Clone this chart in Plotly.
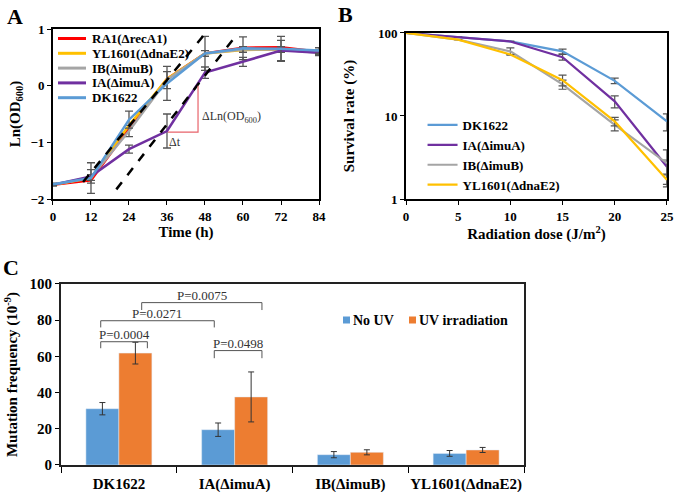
import plotly.graph_objects as go

# ---------- Panel A data ----------
time_h = [0, 12, 24, 36, 48, 60, 72, 84]
a_names = ["RA1(ΔrecA1)", "YL1601(ΔdnaE2)", "IB(ΔimuB)", "IA(ΔimuA)", "DK1622"]
a_colors = ["#FF0000", "#FFC000", "#A5A5A5", "#7030A0", "#5B9BD5"]
a_ra1 = [-1.75, -1.67, -0.75, 0.12, 0.57, 0.67, 0.68, 0.60]
a_yl = [-1.75, -1.63, -0.70, 0.12, 0.57, 0.63, 0.64, 0.60]
a_ib = [-1.75, -1.62, -0.80, 0.10, 0.57, 0.64, 0.64, 0.58]
a_ia = [-1.75, -1.60, -1.12, -0.80, 0.23, 0.42, 0.62, 0.58]
a_dk = [-1.74, -1.63, -0.60, 0.04, 0.57, 0.66, 0.65, 0.62]
a_err_ib = [0.0, 0.05, 0.10, 0.15, 0.05, 0.05, 0.05, 0.03]
a_err_ia = [0.02, 0.12, 0.07, 0.30, 0.10, 0.08, 0.18, 0.05]
a_err_dk = [0.02, 0.27, 0.15, 0.30, 0.30, 0.20, 0.22, 0.05]
dash1_x = [9.5, 48.5]
dash1_y = [-1.70, 0.95]
dash2_x = [20.0, 56.9]
dash2_y = [-1.83, 0.82]
tri_x = [36.3, 45.8, 45.8]
tri_y = [-0.82, -0.82, 0.0]

# ---------- Panel B data ----------
dose = [0, 5, 10, 15, 20, 25]
b_names = ["DK1622", "IA(ΔimuA)", "IB(ΔimuB)", "YL1601(ΔdnaE2)"]
b_colors = ["#5B9BD5", "#7030A0", "#A5A5A5", "#FFC000"]
b_dk = [100, 89, 79, 60, 26.5, 8.6]
b_ia = [100, 89, 79, 51, 15, 2.45]
b_ib = [100, 83, 60, 24, 7.8, 2.7]
b_yl = [100, 83, 55, 27, 8.6, 1.7]
b_err_dk = [0, 0, 0, 4, 2, 2]
b_err_ia = [0, 0, 0, 4, 2.5, 0.5]
b_err_ib = [0, 0, 6, 3, 1.2, 1.2]
b_err_yl = [0, 0, 0, 4, 1, 0.3]

# ---------- Panel C data ----------
strains = ["DK1622", "IA(ΔimuA)", "IB(ΔimuB)", "YL1601(ΔdnaE2)"]
c_series = ["No UV", "UV irradiation"]
c_colors = ["#5B9BD5", "#ED7D31"]
c_nouv = [31.1, 19.5, 5.7, 6.4]
c_nouv_err = [3.4, 3.7, 1.7, 1.6]
c_uv = [61.8, 37.6, 7.0, 8.3]
c_uv_err = [6.0, 13.8, 1.4, 1.4]
p_labels = ["P=0.0004", "P=0.0271", "P=0.0075", "P=0.0498"]
p_x0 = [-0.157, -0.157, 0.197, 0.824]
p_x1 = [0.246, 0.824, 1.236, 1.236]
p_y_top = [68.1, 79.7, 89.7, 63.2]
p_y_leg = [64.5, 76.0, 85.6, 59.0]

FONT = "Liberation Serif"
W, H = 675, 492
fig = go.Figure()

# Panel A traces (legend drawn manually below for compact spacing)
for name, col, ys, err in zip(a_names, a_colors, [a_ra1, a_yl, a_ib, a_ia, a_dk],
                              [None, None, a_err_ib, a_err_ia, a_err_dk]):
    tr = dict(x=time_h, y=ys, mode="lines", name=name, showlegend=False,
              line=dict(color=col, width=2.5), xaxis="x", yaxis="y")
    if err is not None:
        tr["error_y"] = dict(type="data", array=err, color="#555555", thickness=1.3, width=4)
    fig.add_trace(go.Scatter(**tr))
for dx, dy in [(dash1_x, dash1_y), (dash2_x, dash2_y)]:
    fig.add_trace(go.Scatter(x=dx, y=dy, mode="lines", showlegend=False,
                             line=dict(color="black", width=2.5, dash="dash"),
                             xaxis="x", yaxis="y"))
fig.add_trace(go.Scatter(x=tri_x, y=tri_y, mode="lines", showlegend=False,
                         line=dict(color="#E8636B", width=1.2), xaxis="x", yaxis="y"))

# Panel B traces
for name, col, ys, err in zip(b_names, b_colors, [b_dk, b_ia, b_ib, b_yl],
                              [b_err_dk, b_err_ia, b_err_ib, b_err_yl]):
    fig.add_trace(go.Scatter(x=dose, y=ys, mode="lines", name=name,
                             line=dict(color=col, width=2.2), xaxis="x2", yaxis="y2",
                             legend="legend2",
                             error_y=dict(type="data", array=err, color="#555555",
                                          thickness=1.2, width=4)))

# Panel C traces
for name, col, ys, err in zip(c_series, c_colors, [c_nouv, c_uv], [c_nouv_err, c_uv_err]):
    fig.add_trace(go.Bar(x=strains, y=ys, name=name, marker_color=col, showlegend=False,
                         error_y=dict(type="data", array=err, color="#333333",
                                      thickness=1, width=3),
                         xaxis="x3", yaxis="y3"))

shapes = []
annotations = []
for lab, x0, x1, yt, yl in zip(p_labels, p_x0, p_x1, p_y_top, p_y_leg):
    shapes.append(dict(type="path", xref="x3", yref="y3",
                       path=f"M {x0},{yl} L {x0},{yt} L {x1},{yt} L {x1},{yl}",
                       line=dict(color="#555555", width=1)))
    annotations.append(dict(x=(x0 + x1) / 2, y=yt, xref="x3", yref="y3", text=lab,
                            showarrow=False, yanchor="middle", yshift=7,
                            font=dict(family=FONT, size=13, color="#333333")))

# Manual compact legend for panel A
leg_x0, leg_y0, leg_dy = 58, 38.5, 14.8
for i, (name, col) in enumerate(zip(a_names, a_colors)):
    yy = 1 - (leg_y0 + i * leg_dy) / H
    shapes.append(dict(type="line", xref="paper", yref="paper",
                       x0=leg_x0 / W, x1=(leg_x0 + 28) / W, y0=yy, y1=yy,
                       line=dict(color=col, width=3)))
    annotations.append(dict(x=(leg_x0 + 32) / W, y=yy, xref="paper", yref="paper",
                            text=f"<b>{name}</b>", showarrow=False, xanchor="left",
                            yanchor="middle",
                            font=dict(family=FONT, size=13, color="black")))

# Manual compact legend for panel C
c_leg_x = [343, 409]
c_leg_y = 320
for name, col, lx in zip(c_series, c_colors, c_leg_x):
    shapes.append(dict(type="rect", xref="paper", yref="paper",
                       x0=lx / W, x1=(lx + 7) / W,
                       y0=1 - (c_leg_y + 3.5) / H, y1=1 - (c_leg_y - 3.5) / H,
                       fillcolor=col, line=dict(width=0)))
    annotations.append(dict(x=(lx + 8) / W, y=1 - c_leg_y / H, xref="paper", yref="paper",
                            text=f"<b>{name}</b>", showarrow=False, xanchor="left",
                            yanchor="middle",
                            font=dict(family=FONT, size=14, color="black")))

annotations += [
    dict(x=38.6, y=-1.0, xref="x", yref="y", text="Δt", showarrow=False,
         font=dict(family=FONT, size=12, color="#333333")),
    dict(x=46.3, y=-0.55, xref="x", yref="y", text="ΔLn(OD<sub>600</sub>)", showarrow=False,
         xanchor="left", font=dict(family=FONT, size=12, color="#333333")),
    dict(x=0.008, y=0.995, xref="paper", yref="paper", text="<b>A</b>", showarrow=False,
         xanchor="left", yanchor="top", font=dict(family=FONT, size=22, color="black")),
    dict(x=0.498, y=1.0, xref="paper", yref="paper", text="<b>B</b>", showarrow=False,
         xanchor="left", yanchor="top", font=dict(family=FONT, size=22, color="black")),
    dict(x=0.002, y=0.485, xref="paper", yref="paper", text="<b>C</b>", showarrow=False,
         xanchor="left", yanchor="top", font=dict(family=FONT, size=22, color="black")),
]


def axis(**kw):
    d = dict(showline=True, linecolor="black", linewidth=2, mirror=True,
             showgrid=False, zeroline=False, ticks="outside", ticklen=4,
             tickcolor="black", automargin=False, ticklabeloverflow="allow",
             tickfont=dict(family=FONT, size=13, color="black", weight="bold"))
    d.update(kw)
    return d


title_font = dict(family=FONT, size=15, color="black", weight="bold")

fig.update_layout(
    width=W, height=H, margin=dict(l=0, r=0, t=0, b=0, autoexpand=False),
    paper_bgcolor="white", plot_bgcolor="white",
    font=dict(family=FONT, color="black"),
    barmode="group", bargap=0.43, bargroupgap=0,
    shapes=shapes, annotations=annotations,
    xaxis=axis(domain=[0.0785, 0.4726], anchor="y", range=[0, 84], dtick=12, tick0=0,
               title=dict(text="Time (h)", font=title_font, standoff=0)),
    yaxis=axis(domain=[0.5955, 0.941], anchor="x", range=[-2, 1], dtick=1,
               title=dict(text="Ln(OD<sub>600</sub>)", font=title_font, standoff=6)),
    xaxis2=axis(domain=[0.6015, 0.988], anchor="y2", range=[0, 25], dtick=5,
                title=dict(text="Radiation dose (J/m<sup>2</sup>)", font=title_font, standoff=2)),
    yaxis2=axis(domain=[0.5955, 0.933], anchor="x2", type="log", range=[0, 2],
                tickvals=[1, 10, 100], ticktext=["1", "10", "100"],
                title=dict(text="Survival rate (%)", font=title_font, standoff=20)),
    xaxis3=axis(domain=[0.0904, 0.7763], anchor="y3", type="category", tickson="boundaries",
                tickangle=0, ticklen=6, ticklabelstandoff=4, linecolor="#222222",
                tickfont=dict(family=FONT, size=15, color="black", weight="bold")),
    yaxis3=axis(domain=[0.0549, 0.4228], anchor="x3", range=[0, 100], dtick=20,
                linecolor="#222222",
                tickfont=dict(family=FONT, size=15, color="black", weight="bold"),
                title=dict(text="Mutation frequency (10<sup>-9</sup>)", font=title_font, standoff=8)),
    legend2=dict(x=0.626, y=1 - 110 / H, xanchor="left", yanchor="top",
                 bgcolor="rgba(0,0,0,0)",
                 font=dict(family=FONT, size=13, color="black", weight="bold"),
                 tracegroupgap=0, itemwidth=30),
)

fig.write_html("out.html", config={"displayModeBar": False},
               post_script="document.body.style.margin='0';")
